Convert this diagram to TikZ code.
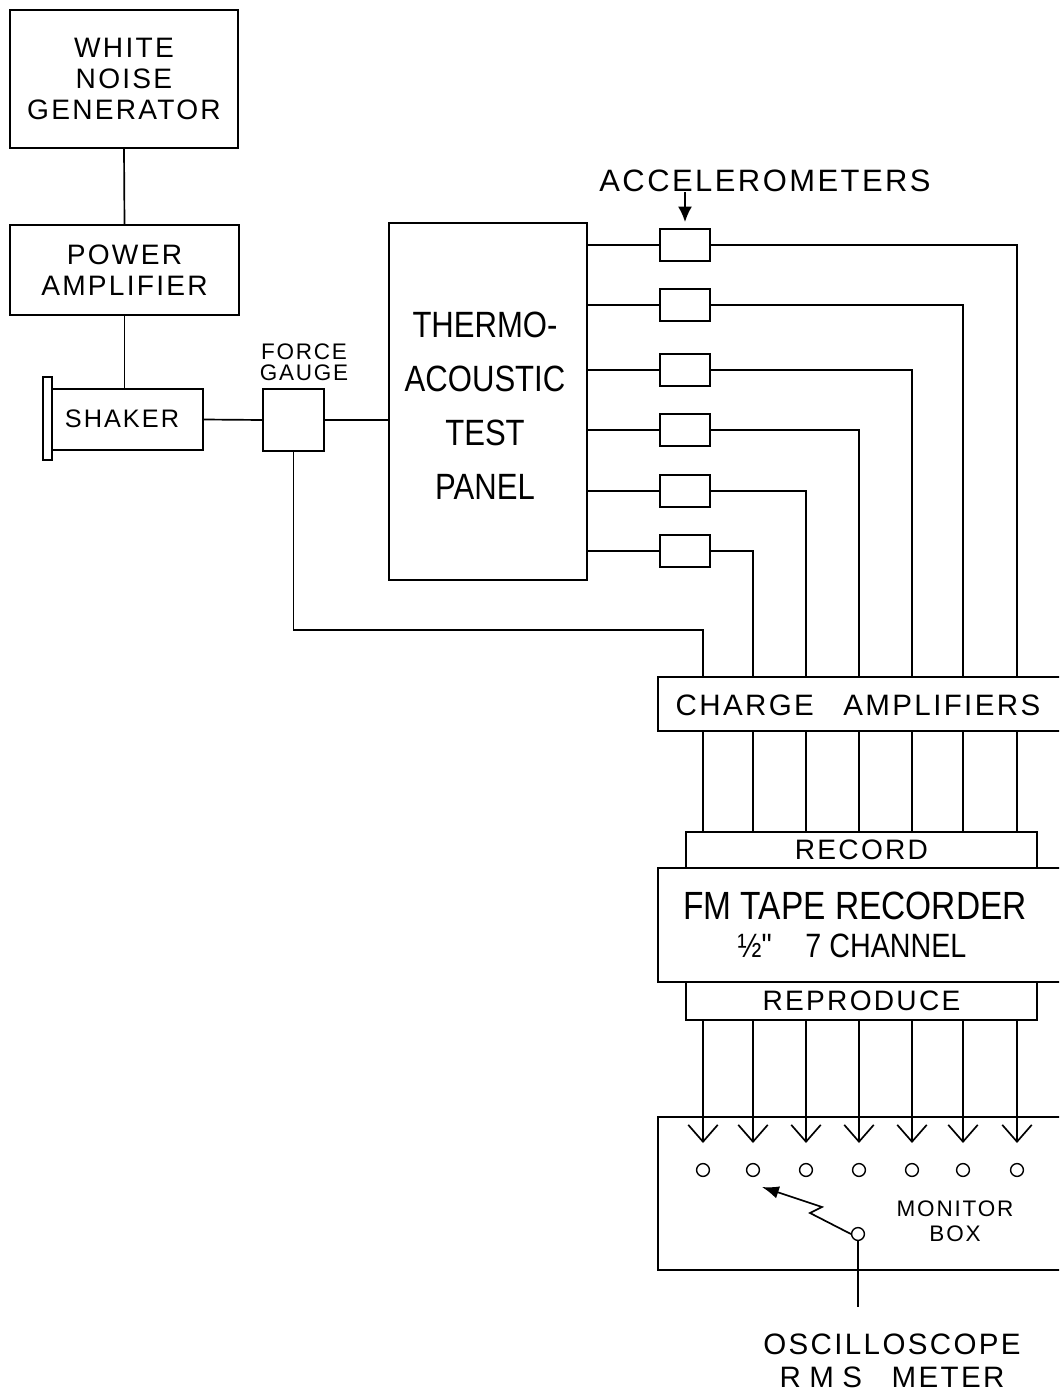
\documentclass[tikz,border=0pt]{standalone}
\usepackage{fontspec}
\setmainfont{Liberation Sans}[LetterSpace=8]
\newfontfamily\narrowfont{Liberation Sans}[FakeStretch=0.85]
\usepackage{tikz}
\usetikzlibrary{arrows.meta,positioning}
\tikzset{
  unit/.style={draw,line width=1.2pt,inner sep=0pt,align=center},
  wire/.style={line width=1.2pt},
  jack/.style={draw,circle,line width=1pt,minimum size=0.32cm,inner sep=0pt},
  lettering/.style={align=center,inner sep=0pt},
  probe/.style={wire,-{Straight Barb[length=12pt,width=21pt]}},
  pointer/.style={wire,-{Latex[length=10pt,width=8pt]}}
}

\begin{document}
\begin{tikzpicture}[x=0.025cm,y=-0.025cm]
  \useasboundingbox (0,0) rectangle (1059,1392);
  \clip (0,0) rectangle (1059,1392);

  % excitation chain
  \node[unit,minimum width=5.7cm,minimum height=3.45cm,font=\fontsize{20}{22}\selectfont] (noise) at (124,79) {WHITE\\NOISE\\GENERATOR};
  \node[unit,minimum width=5.725cm,minimum height=2.25cm,font=\fontsize{20}{22}\selectfont] (power) at (124.5,270) {POWER\\AMPLIFIER};
  \node[unit,minimum width=3.775cm,minimum height=1.525cm] (shaker) at (127.5,419.5) {};
  \node[lettering,font=\fontsize{18}{20}\selectfont] (shakertxt) at (122,419) {SHAKER};
  \node[unit,minimum width=0.225cm,minimum height=2.075cm] (plate) at (47.5,418.5) {};
  \node[unit,minimum width=1.525cm,minimum height=1.55cm] (gauge) at (293.5,420) {};
  \node[lettering,font=\fontsize{16}{15}\selectfont] (gaugetxt) at (304,362) {FORCE\\GAUGE};
  \node[unit,minimum width=4.95cm,minimum height=8.925cm] (panel) at (488,401.5) {};
  \node[lettering,font=\narrowfont\fontsize{26}{38.4}\selectfont] (paneltxt) at (485,406) {THERMO-\\ACOUSTIC\\TEST\\PANEL};

  \draw[wire] (noise.south) -- (power.north);
  \draw[wire] (power.south) -- (power.south |- shaker.north);
  \draw[wire] (shaker.east) -- (gauge.west);
  \draw[wire] (gauge.east) -- (gauge.east -| panel.west);

  % accelerometers
  \node[lettering,font=\fontsize{22}{24}\selectfont] (acctxt) at (765,181) {ACCELEROMETERS};
  \foreach \i/\y in {1/245,2/305,3/370,4/430,5/491,6/551}
    \node[unit,minimum width=1.25cm,minimum height=0.8cm] (acc\i) at (685,\y) {};
  \coordinate (accpt) at (685,222);
  \draw[pointer,-{Latex[length=11pt,width=10pt]}] (acctxt.south -| accpt) -- (accpt);

  % signal conditioning and recording
  \node[unit,minimum width=10.55cm,minimum height=1.35cm] (charge) at (869,704) {};
  \node[lettering,font=\fontsize{21}{23}\selectfont] (chargetxt) at (858,705) {CHARGE\quad AMPLIFIERS};
  \node[unit,minimum width=8.775cm,minimum height=0.9cm,font=\fontsize{20}{20}\selectfont] (record) at (861.5,850) {RECORD};
  \node[unit,minimum width=10.55cm,minimum height=2.85cm] (tape) at (869,925) {};
  \node[lettering,font=\narrowfont\fontsize{28}{30}\selectfont] (tapetxt) at (855,906) {FM TAPE RECORDER};
  \node[lettering,font=\narrowfont\fontsize{24}{26}\selectfont] (chantxt) at (852,946) {½"\quad 7 CHANNEL};
  \node[unit,minimum width=8.775cm,minimum height=0.95cm,font=\fontsize{20}{20}\selectfont] (repro) at (861.5,1001) {REPRODUCE};
  \node[unit,minimum width=10.55cm,minimum height=3.825cm] (monitor) at (869,1193.5) {};
  \node[lettering,font=\fontsize{16}{18}\selectfont] (monitortxt) at (955,1221) {MONITOR\\BOX};

  \foreach \i/\x in {1/703,2/753,3/806,4/859,5/912,6/963,7/1017}
    \coordinate (col\i) at (\x,0);
  \coordinate (tips) at (0,1143);
  \coordinate (jacks) at (0,1170);

  \foreach \i/\c in {1/7,2/6,3/5,4/4,5/3,6/2} {
    \draw[wire] (panel.east |- acc\i) -- (acc\i.west);
    \draw[wire] (acc\i.east) -| (col\c |- charge.north);
  }
  \draw[wire] (gauge.south) -- ++(0,178) -| (col1 |- charge.north);

  \foreach \i in {1,...,7} {
    \draw[wire] (col\i |- charge.south) -- (col\i |- record.north);
    \draw[probe] (col\i |- repro.south) -- (col\i |- tips);
    \node[jack] (jack\i) at (col\i |- jacks) {};
  }

  % selector switch
  \node[jack] (sw) at (858,1234) {};
  \coordinate (swtip) at (762,1187);
  \coordinate (lead) at (858,1307);
  \draw[pointer,-{Latex[length=12pt,width=9pt]}] (sw.west) -- (810,1213) -- (822,1207) -- (swtip);
  \draw[wire] (sw.south) -- (lead);
  \node[lettering,font=\fontsize{21}{23.5}\selectfont] (scopetxt) at (892,1361) {OSCILLOSCOPE\\R\kern6pt M\kern6pt S\quad METER};
\end{tikzpicture}
\end{document}
